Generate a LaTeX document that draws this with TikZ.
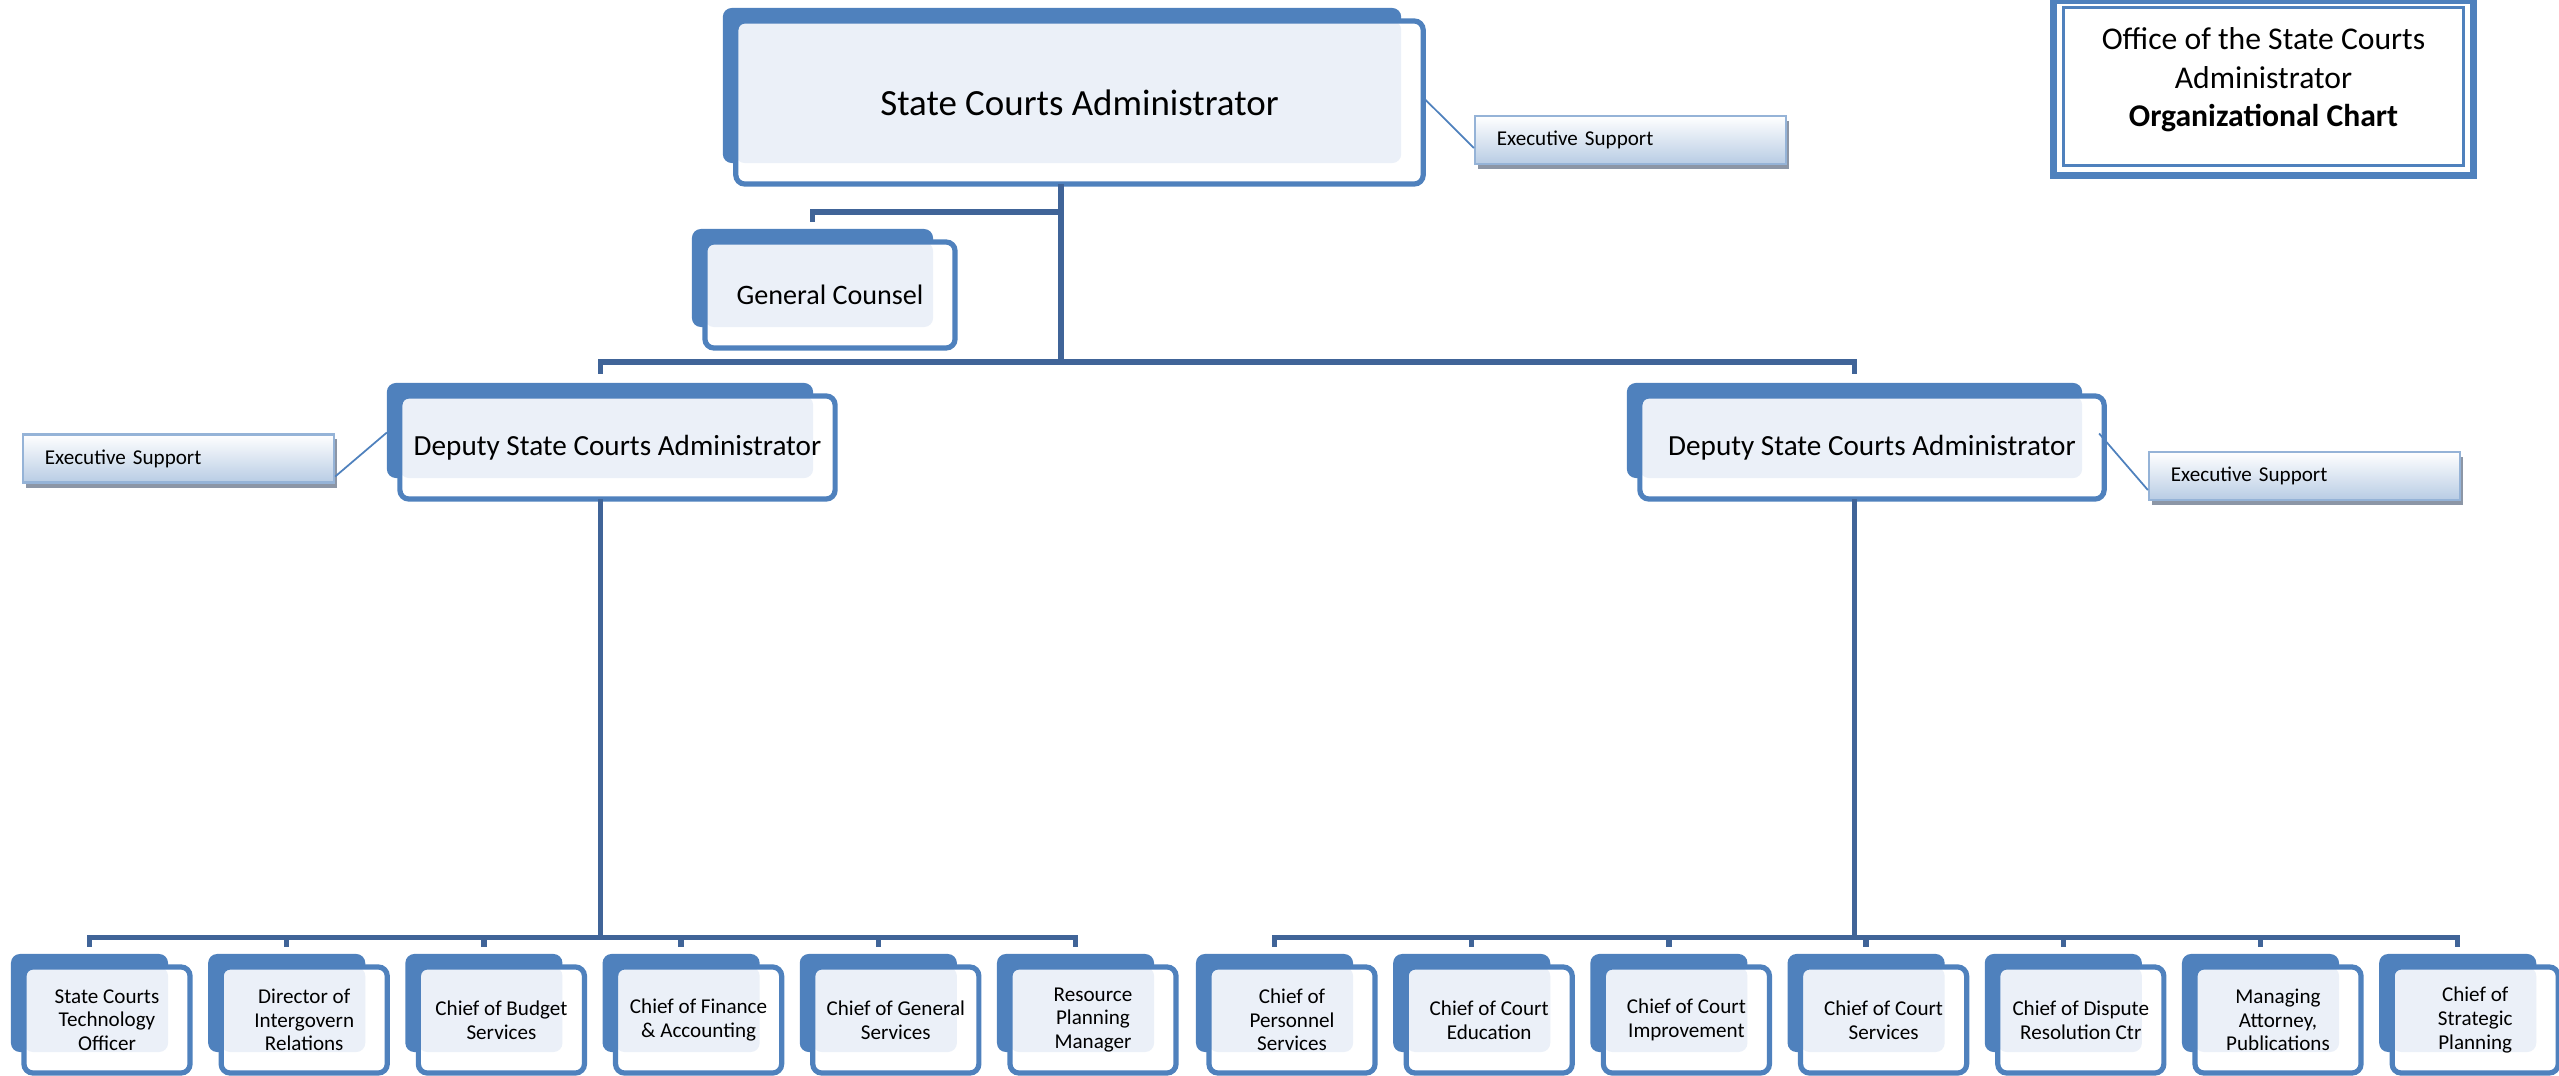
\documentclass[tikz,border=0pt]{standalone}
\usepackage{fontspec}
\setmainfont{Carlito}
\usetikzlibrary{backgrounds,shadows}
\definecolor{boxblue}{RGB}{79,129,189}
\definecolor{linkblue}{RGB}{64,100,152}
\definecolor{paleblue}{RGB}{235,240,248}
\definecolor{esline}{RGB}{149,179,215}
\definecolor{esfill}{RGB}{184,204,228}
\definecolor{esshadow}{RGB}{140,150,166}
\begin{document}
\begin{tikzpicture}[x=0.01cm,y=-0.01cm,
		unit/.style={draw=boxblue,line width=0.052cm,rounded corners=0.09cm,fill=white,inner sep=0pt,outer sep=0pt,align=center,
			path picture={\fill[paleblue,rounded corners=0.09cm] (path picture bounding box.north west) rectangle ([shift={(-22,-21)}]path picture bounding box.south east);}},
		exec/.style={draw=esline,line width=0.6pt,top color=white,bottom color=esfill,minimum height=0.48cm,text width=2.67cm,inner xsep=0.22cm,inner ysep=0pt,align=left,font=\fontsize{6}{7}\selectfont,
			drop shadow={shadow xshift=0.03cm,shadow yshift=-0.05cm,fill=esshadow,opacity=1}},
		link/.style={draw=linkblue,line width=0.055cm},
		aside/.style={draw=boxblue,line width=0.5pt}]
		\useasboundingbox (0,0) rectangle (2559,1076);
		% title block
		\draw[boxblue,line width=0.07cm] (2053.5,0.5) rectangle (2473.5,175.5);
		\draw[boxblue,line width=0.03cm] (2063.5,8) rectangle (2463.5,166);
		\node[align=center,font=\fontsize{9}{11}\selectfont] (title) at (2263.5,80) {Office of the State Courts\\Administrator\\\textbf{Organizational Chart}};
		% units
		\node[unit,minimum width=6.87cm,minimum height=1.63cm,font=\fontsize{10.5}{12}\selectfont] (sca) at (1079.5,102.5) {State Courts Administrator};
		\node[unit,minimum width=2.5cm,minimum height=1.06cm,font=\fontsize{8}{10}\selectfont] (gc) at (830,295) {General Counsel};
		\node[unit,minimum width=4.35cm,minimum height=1.03cm,font=\fontsize{8.3}{10}\selectfont] (dpl) at (617.5,447.5) {Deputy State Courts Administrator};
		\node[unit,minimum width=4.64cm,minimum height=1.03cm,font=\fontsize{8.3}{10}\selectfont] (dpr) at (1872,447.5) {Deputy State Courts Administrator};
		\foreach \i/\t in {1/{State Courts\\Technology\\Officer},2/{Director of\\Intergovern\\Relations},3/{Chief of Budget\\Services},
				4/{Chief of Finance\\\& Accounting},5/{Chief of General\\Services},6/{Resource\\Planning\\Manager}}
			\node[unit,minimum width=1.66cm,minimum height=1.06cm,font=\fontsize{6}{6.7}\selectfont] (l\i) at ({107+197.2*(\i-1)},1020) {\t};
		\foreach \i/\t in {1/{Chief of\\Personnel\\Services},2/{Chief of Court\\Education},3/{Chief of Court\\Improvement},4/{Chief of Court\\Services},
				5/{Chief of Dispute\\Resolution Ctr},6/{Managing\\Attorney,\\Publications},7/{Chief of\\Strategic\\Planning}}
			\node[unit,minimum width=1.66cm,minimum height=1.06cm,font=\fontsize{6}{6.7}\selectfont] (r\i) at ({1292+197.2*(\i-1)},1020) {\t};
		\begin{scope}[on background layer]
			\foreach \n in {sca,gc,dpl,dpr,l1,l2,l3,l4,l5,l6,r1,r2,r3,r4,r5,r6,r7}
				\fill[boxblue,rounded corners=0.09cm] ([shift={(-13,-13)}]\n.north west) rectangle ([shift={(-22,-21)}]\n.south east);
		\end{scope}
		% executive support
		\node[exec] (es1) at (1630.5,140) {Executive Support};
		\node[exec] (es2) at (178.5,458.5) {Executive Support};
		\node[exec] (es3) at (2304.5,476) {Executive Support};
		\draw[aside] ([shift={(0,-5)}]sca.east) -- ([shift={(0,8)}]es1.west);
		\draw[aside] ([shift={(0,-7)}]es2.south east) -- ([shift={(-13,-15)}]dpl.west);
		\draw[aside] ([shift={(-5,-14)}]dpr.east) -- ([shift={(0,14)}]es3.west);
		% lines
		\coordinate (hub) at (1061,362);
		\coordinate (gcj) at (1061,212);
		\draw[link] ([shift={(-18.5,0)}]sca.south) -- (hub);
		\draw[link] ([shift={(-17.5,-20)}]gc.north) |- (gcj);
		\draw[link] ([shift={(-17,-22)}]dpl.north) |- (hub) -| ([shift={(-17.5,-22)}]dpr.north);
		\draw[link] ([shift={(-17,0)}]dpl.south) -- ++(0,438.5);
		\draw[link] ([shift={(-17.5,0)}]dpr.south) -- ++(0,438.5);
		\draw[link] ([shift={(-17.5,-20)}]l1.north) -- ++(0,-9.5) -- ([shift={(-17.5,-29.5)}]l6.north) -- ++(0,9.5);
		\draw[link] ([shift={(-17.5,-20)}]r1.north) -- ++(0,-9.5) -- ([shift={(-17.5,-29.5)}]r7.north) -- ++(0,9.5);
		\foreach \i in {2,...,5} \draw[link] ([shift={(-17.5,-20)}]l\i.north) -- ++(0,-10);
		\foreach \i in {2,...,6} \draw[link] ([shift={(-17.5,-20)}]r\i.north) -- ++(0,-10);
\end{tikzpicture}
\end{document}
